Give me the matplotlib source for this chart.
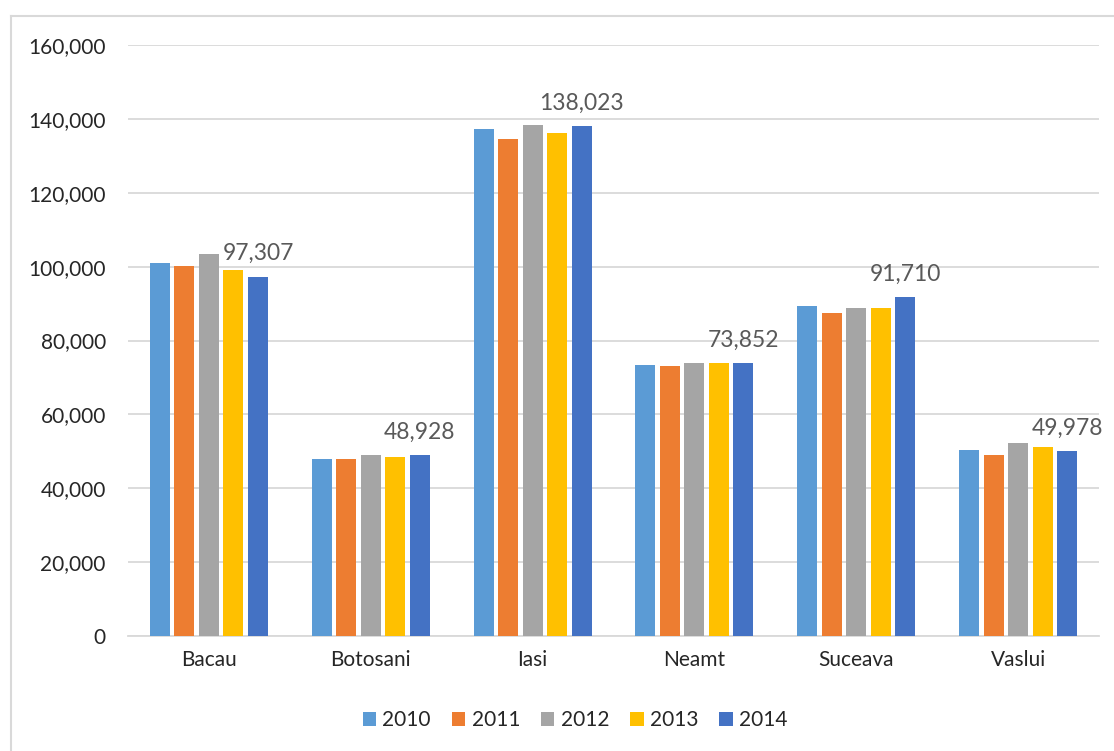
import matplotlib
matplotlib.use("Agg")
import matplotlib.pyplot as plt
from matplotlib.lines import Line2D
from matplotlib.ticker import FuncFormatter
import numpy as np

categories = ["Bacau", "Botosani", "Iasi", "Neamt", "Suceava", "Vaslui"]
years = ["2010", "2011", "2012", "2013", "2014"]
v2010 = [100900, 47800, 137200, 73400, 89400, 50300]
v2011 = [100200, 47800, 134500, 73100, 87400, 48900]
v2012 = [103400, 49100, 138300, 73800, 88700, 52200]
v2013 = [99100, 48400, 136300, 73800, 88700, 51200]
v2014 = [97307, 48928, 138023, 73852, 91710, 49978]
series = [v2010, v2011, v2012, v2013, v2014]
colors = ["#5B9BD5", "#ED7D31", "#A5A5A5", "#FFC000", "#4472C4"]

plt.rcParams['font.family'] = ['Lato', 'DejaVu Sans']

W, H = 1114, 751
fig = plt.figure(figsize=(W / 100, H / 100), dpi=100)
ax = fig.add_axes([128 / W, 1 - 636 / H, (1099 - 128) / W, (636 - 45) / H])

x = np.arange(len(categories))
step = 0.1515
bw = 0.124
for j, (vals, c) in enumerate(zip(series, colors)):
    bars = ax.bar(x + (j - 2) * step, vals, width=bw, color=c, label=years[j], zorder=3)
    if j == 4:
        for b, v in zip(bars, vals):
            ax.annotate(f"{v:,}", (b.get_x() + b.get_width() / 2, v),
                        xytext=(0, 9), textcoords="offset points",
                        ha="center", va="bottom", fontsize=16.5, color="#595959")

ax.set_xlim(-0.5, len(categories) - 0.5)
ax.set_ylim(0, 160000)
ax.set_yticks(np.arange(0, 160001, 20000))
ax.yaxis.set_major_formatter(FuncFormatter(lambda v, p: f"{int(v):,}"))
ax.set_xticks(x)
ax.set_xticklabels(categories)
ax.grid(axis="y", color="#D9D9D9", linewidth=1.3, zorder=0)
for s in ["top", "right", "left"]:
    ax.spines[s].set_visible(False)
ax.spines["bottom"].set_color("#D9D9D9")
ax.spines["bottom"].set_linewidth(1.3)
ax.tick_params(axis="both", length=0, labelsize=15, colors="#262626")
ax.tick_params(axis="y", pad=16)
ax.tick_params(axis="x", pad=10)

ax.legend(loc="center", bbox_to_anchor=(575 / W, 31 / H), bbox_transform=fig.transFigure,
          ncol=5, frameon=False, fontsize=15, handlelength=0.65, handleheight=0.65,
          handletextpad=0.3, columnspacing=1.0, labelcolor="#262626")

# chart border
fig.add_artist(Line2D([10.5 / W, 10.5 / W], [0, 1 - 16 / H], color="#D9D9D9", lw=1.5,
                      transform=fig.transFigure))
fig.add_artist(Line2D([10.5 / W, 1], [1 - 16 / H, 1 - 16 / H], color="#D9D9D9", lw=1.5,
                      transform=fig.transFigure))

fig.savefig("out.png", dpi=100, facecolor="white")
